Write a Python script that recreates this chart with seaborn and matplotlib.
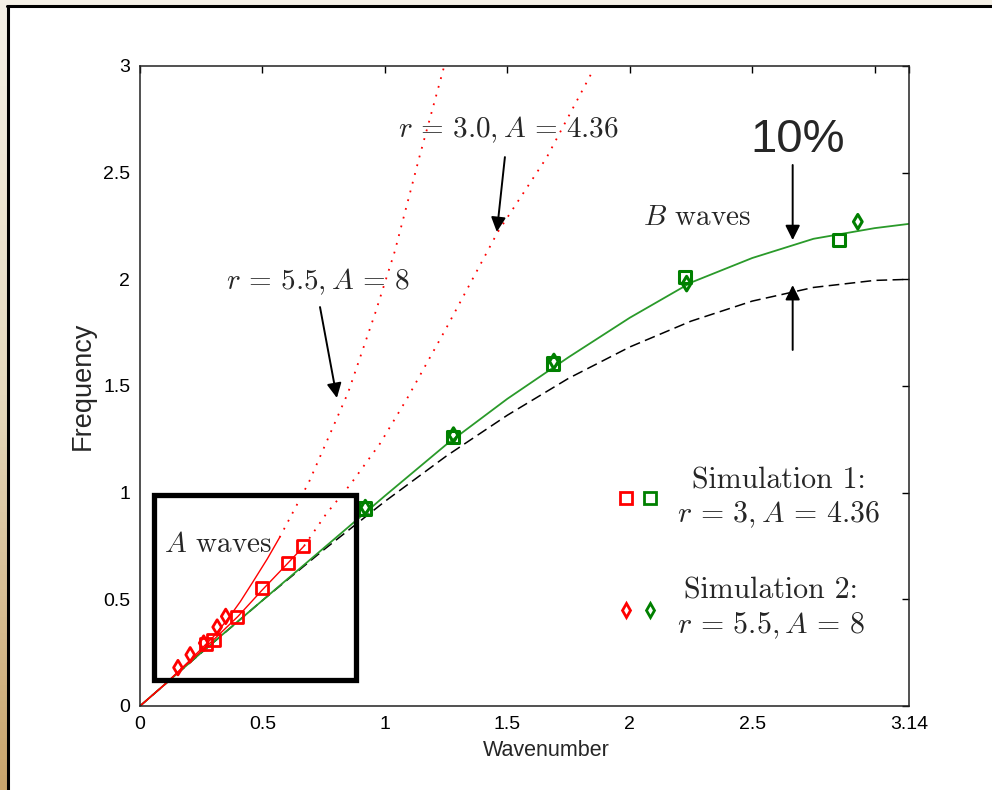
import matplotlib
matplotlib.use("Agg")
import numpy as np
import pandas as pd
import matplotlib.pyplot as plt
import seaborn as sns
from matplotlib.patches import Rectangle
from matplotlib.lines import Line2D
from matplotlib.legend_handler import HandlerTuple
from matplotlib.colors import LinearSegmentedColormap

# ---------------- data ----------------
# black dashed reference curve
k_ref = [0.0, 0.25, 0.5, 0.75, 1.0, 1.25, 1.5, 1.75, 2.0, 2.25, 2.5, 2.75, 3.0, 3.14]
w_ref = [0.0, 0.249, 0.495, 0.732, 0.959, 1.171, 1.363, 1.536, 1.683, 1.804, 1.898, 1.962, 1.995, 2.0]

# green solid curve (B waves)
k_b = [0.0, 0.25, 0.5, 0.75, 1.0, 1.25, 1.5, 1.75, 2.0, 2.25, 2.5, 2.75, 3.0, 3.14]
w_b = [0.0, 0.25, 0.495, 0.74, 0.985, 1.225, 1.44, 1.635, 1.82, 1.985, 2.1, 2.19, 2.24, 2.26]

# red solid / dotted curves, simulation 1 (r = 3, A = 4.36)
k_a1 = [0.0, 0.1, 0.2, 0.3, 0.4, 0.5, 0.6, 0.67]
w_a1 = [0.0, 0.1, 0.205, 0.31, 0.42, 0.545, 0.665, 0.75]
k_a1_dot = [0.67, 0.76, 0.86, 0.98, 1.09, 1.25, 1.46, 1.66, 1.85]
w_a1_dot = [0.75, 0.9, 1.04, 1.23, 1.44, 1.77, 2.22, 2.57, 2.98]

# red solid / dotted curves, simulation 2 (r = 5.5, A = 8)
k_a2 = [0.0, 0.1, 0.2, 0.3, 0.36, 0.41, 0.46, 0.52, 0.57]
w_a2 = [0.0, 0.1, 0.21, 0.325, 0.41, 0.49, 0.58, 0.69, 0.79]
k_a2_dot = [0.57, 0.69, 0.85, 0.96, 1.04, 1.14, 1.24]
w_a2_dot = [0.79, 1.05, 1.47, 1.84, 2.13, 2.57, 2.99]

# simulation points
k_sq_red = [0.27, 0.30, 0.396, 0.498, 0.604, 0.665]
w_sq_red = [0.29, 0.31, 0.417, 0.553, 0.67, 0.75]
k_di_red = [0.155, 0.205, 0.26, 0.315, 0.35]
w_di_red = [0.18, 0.24, 0.295, 0.37, 0.42]
k_sq_green = [0.918, 1.278, 1.686, 2.226, 2.853]
w_sq_green = [0.925, 1.262, 1.605, 2.01, 2.185]
k_di_green = [0.92, 1.28, 1.69, 2.232, 2.931]
w_di_green = [0.93, 1.27, 1.615, 1.98, 2.27]

x_ticks = [0, 0.5, 1, 1.5, 2, 2.5, 3, 3.14]
x_tick_labels = ["0", "0.5", "1", "1.5", "2", "2.5", "", "3.14"]
y_ticks = [0, 0.5, 1, 1.5, 2, 2.5, 3]
y_tick_labels = ["0", "0.5", "1", "1.5", "2", "2.5", "3"]

# ---------------- style ----------------
sns.set_theme(style="white")
plt.rcParams["font.family"] = ["Liberation Sans", "DejaVu Sans"]
plt.rcParams["mathtext.fontset"] = "cm"
plt.rcParams["axes.unicode_minus"] = False

fig = plt.figure(figsize=(9.92, 7.9), dpi=100)
fig.patch.set_facecolor("white")

# slide decoration: beige strip on the left, thin strip on top, black frame lines
ax_bg = fig.add_axes([0, 0, 7.5 / 992, 1])
grad = np.linspace(0, 1, 256).reshape(-1, 1)
cmap = LinearSegmentedColormap.from_list("beige", ["#f4f0e6", "#e6d9bd", "#c8a46c"])
ax_bg.imshow(grad, aspect="auto", cmap=cmap, extent=[0, 1, 0, 1], origin="upper")
ax_bg.set_axis_off()
fig.add_artist(Rectangle((0, 1 - 5 / 790), 1, 5 / 790, transform=fig.transFigure,
                         color="#f4f0e6", zorder=0))
fig.add_artist(Line2D([7.5 / 992, 7.5 / 992], [0, 1 - 5.5 / 790], transform=fig.transFigure,
                      color="black", lw=2.2))
fig.add_artist(Line2D([7 / 992, 1], [1 - 5.5 / 790, 1 - 5.5 / 790], transform=fig.transFigure,
                      color="black", lw=2.2))

ax = fig.add_axes([140 / 992, 1 - 706 / 790, 769 / 992, 640 / 790])
ax.set_facecolor("white")

df_ref = pd.DataFrame({"k": k_ref, "w": w_ref})
df_b = pd.DataFrame({"k": k_b, "w": w_b})
df_a1 = pd.DataFrame({"k": k_a1, "w": w_a1})
df_a1d = pd.DataFrame({"k": k_a1_dot, "w": w_a1_dot})
df_a2 = pd.DataFrame({"k": k_a2, "w": w_a2})
df_a2d = pd.DataFrame({"k": k_a2_dot, "w": w_a2_dot})

sns.lineplot(data=df_ref, x="k", y="w", ax=ax, color="black", lw=1.1,
             linestyle=(0, (7, 3.5)), sort=False, estimator=None)
sns.lineplot(data=df_b, x="k", y="w", ax=ax, color="#2a9a2a", lw=1.3, sort=False, estimator=None)
sns.lineplot(data=df_a1, x="k", y="w", ax=ax, color="red", lw=1.0, sort=False, estimator=None)
sns.lineplot(data=df_a2, x="k", y="w", ax=ax, color="red", lw=1.0, sort=False, estimator=None)
sns.lineplot(data=df_a1d, x="k", y="w", ax=ax, color="red", lw=1.3,
             linestyle=(0, (1, 4)), sort=False, estimator=None)
sns.lineplot(data=df_a2d, x="k", y="w", ax=ax, color="red", lw=1.3,
             linestyle=(0, (1, 4)), sort=False, estimator=None)

sns.scatterplot(x=k_sq_red, y=w_sq_red, ax=ax, marker="s", s=80, facecolors="none",
                edgecolor="red", linewidth=2.0, zorder=5)
sns.scatterplot(x=k_di_red, y=w_di_red, ax=ax, marker="d", s=55, facecolors="none",
                edgecolor="red", linewidth=2.0, zorder=5)
sns.scatterplot(x=k_sq_green, y=w_sq_green, ax=ax, marker="s", s=80, facecolors="none",
                edgecolor="#008000", linewidth=2.2, zorder=5)
sns.scatterplot(x=k_di_green, y=w_di_green, ax=ax, marker="d", s=55, facecolors="none",
                edgecolor="#008000", linewidth=2.2, zorder=5)

ax.set_xlim(0, 3.14)
ax.set_ylim(0, 3)
ax.set_xticks(x_ticks)
ax.set_xticklabels(x_tick_labels)
ax.set_yticks(y_ticks)
ax.set_yticklabels(y_tick_labels)
ax.tick_params(direction="in", length=5, width=1, top=True, right=True,
               labelsize=14, pad=7, colors="black")
for sp in ax.spines.values():
    sp.set_visible(True)
    sp.set_color("#222222")
    sp.set_linewidth(1.1)
ax.set_xlabel("Wavenumber", fontsize=15.5)
ax.set_ylabel("Frequency", fontsize=19.5)
ax.xaxis.set_label_coords(0.529, -0.053)
ax.yaxis.set_label_coords(-0.058, 0.5)
ax.grid(False)

# A waves box
ax.add_patch(Rectangle((0.059, 0.124), 0.821, 0.863, fill=False, lw=3.8,
                       edgecolor="black", zorder=6, clip_on=False))

# text annotations (Computer Modern, like the LaTeX labels of the original)
cm = dict(family="cmr10", fontsize=21, ha="center", va="center")
ax.text(0.318, 0.755, r"$A$ waves", **cm)
ax.text(2.273, 2.288, r"$B$ waves", **cm)
ax.text(0.727, 1.99, r"$r\,=\,5.5, A\,=\,8$", **cm)
ax.text(1.505, 2.70, r"$r\,=\,3.0, A\,=\,4.36$", **cm)
ax.text(2.684, 2.653, "10%", fontsize=34, ha="center", va="center")

arrow = dict(arrowstyle="-|>", color="black", lw=1.4, mutation_scale=22, shrinkA=0, shrinkB=0)
ax.annotate("", xy=(0.804, 1.444), xytext=(0.735, 1.87), arrowprops=arrow)
ax.annotate("", xy=(1.457, 2.222), xytext=(1.49, 2.573), arrowprops=arrow)
ax.annotate("", xy=(2.665, 2.184), xytext=(2.665, 2.536), arrowprops=arrow)
ax.annotate("", xy=(2.665, 1.973), xytext=(2.665, 1.669), arrowprops=arrow)

# legend with paired markers
h_sq_r = Line2D([], [], marker="s", ls="none", mfc="none", mec="red", mew=2.0, ms=8.5)
h_sq_g = Line2D([], [], marker="s", ls="none", mfc="none", mec="#008000", mew=2.0, ms=8.5)
h_di_r = Line2D([], [], marker="d", ls="none", mfc="none", mec="red", mew=2.0, ms=7.5)
h_di_g = Line2D([], [], marker="d", ls="none", mfc="none", mec="#008000", mew=2.0, ms=7.5)
leg = ax.legend([(h_sq_r, h_sq_g), (h_di_r, h_di_g)],
                ["Simulation 1:\n$r\\,=\\,3, A\\,=\\,4.36$",
                 "Simulation 2:\n$r\\,=\\,5.5, A\\,=\\,8$"],
                handler_map={tuple: HandlerTuple(ndivide=2, pad=0)},
                loc="upper left", bbox_to_anchor=(0.617, 0.374), frameon=False,
                prop=dict(family="cmr10", size=21.5), handlelength=1.6, handletextpad=0.5,
                labelspacing=1.6, borderpad=0, borderaxespad=0)
for t in leg.get_texts():
    t.set_multialignment("center")
    t.set_linespacing(1.22)

fig.savefig("out.png", dpi=100, facecolor=fig.get_facecolor())
